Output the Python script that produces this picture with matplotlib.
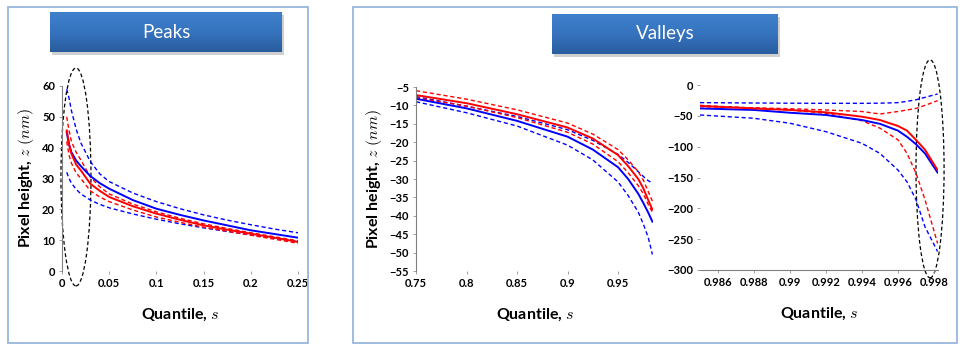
import numpy as np
import matplotlib
matplotlib.use("Agg")
import matplotlib.pyplot as plt
from matplotlib.patches import Rectangle, Ellipse
from matplotlib.colors import LinearSegmentedColormap

plt.rcParams['mathtext.fontset'] = 'cm'
plt.rcParams['font.family'] = ['Lato', 'DejaVu Sans']

# ---------------- data ----------------
# Peaks panel
peak_s = [0.005, 0.0075, 0.01, 0.015, 0.02, 0.03, 0.04, 0.05, 0.075, 0.1, 0.125, 0.15, 0.175, 0.2, 0.225, 0.25]
peak_blue = [45.0, 41.0, 38.5, 35.8, 34.0, 30.8, 28.5, 26.7, 23.0, 20.2, 18.2, 16.4, 14.8, 13.2, 12.0, 10.8]
peak_blue_hi = [59.0, 56.0, 52.0, 46.0, 41.5, 35.5, 31.5, 29.0, 25.3, 22.5, 20.2, 18.2, 16.5, 15.0, 13.6, 12.4]
peak_blue_lo = [32.0, 30.0, 28.5, 26.5, 25.0, 23.0, 21.6, 20.5, 18.5, 16.8, 15.3, 14.0, 12.8, 11.7, 10.6, 9.6]
peak_red = [45.6, 41.0, 38.0, 34.5, 32.6, 28.3, 26.0, 24.0, 21.0, 18.6, 16.6, 14.8, 13.4, 12.1, 10.8, 9.4]
peak_red_hi = [50.0, 45.5, 42.0, 38.5, 36.0, 30.5, 27.3, 25.0, 21.7, 19.2, 17.1, 15.3, 13.8, 12.4, 11.1, 9.8]
peak_red_lo = [42.0, 37.5, 35.0, 31.8, 30.0, 26.0, 24.0, 22.5, 19.8, 17.5, 15.8, 14.2, 12.9, 11.6, 10.3, 9.0]

# Valleys, central quantiles
val_s = [0.75, 0.8, 0.85, 0.9, 0.925, 0.95, 0.96, 0.97, 0.975, 0.98, 0.984]
val_red = [-7.2, -9.4, -12.4, -16.0, -19.0, -23.5, -26.5, -30.0, -32.5, -35.8, -38.3]
val_red_hi = [-6.0, -8.3, -11.2, -14.8, -17.8, -22.0, -24.8, -28.0, -30.3, -33.5, -36.0]
val_red_lo = [-7.9, -10.2, -13.3, -17.3, -20.5, -25.3, -28.3, -31.8, -34.0, -37.0, -39.0]
val_blue = [-8.2, -10.8, -14.2, -18.5, -22.0, -26.8, -30.0, -34.0, -36.5, -39.2, -41.6]
val_blue_hi = [-7.6, -10.2, -13.0, -16.6, -19.5, -23.3, -25.5, -28.0, -29.3, -30.5, -31.0]
val_blue_lo = [-9.0, -12.0, -15.6, -20.8, -24.8, -30.8, -34.5, -39.0, -42.2, -46.0, -50.5]

# Valleys, extreme quantiles
ext_s = [0.985, 0.988, 0.99, 0.992, 0.994, 0.995, 0.996, 0.9965, 0.997, 0.9975, 0.9982]
ext_red = [-34.0, -38.0, -40.5, -44.3, -51.4, -56.8, -66.5, -74.0, -89.0, -105.0, -138.0]
ext_red_hi = [-35.0, -37.0, -38.5, -40.5, -43.0, -47.0, -43.0, -40.5, -38.0, -33.0, -25.4]
ext_red_lo = [-33.0, -37.5, -40.5, -46.0, -58.0, -70.0, -89.0, -111.0, -143.0, -186.0, -257.0]
ext_blue = [-38.0, -40.5, -45.0, -48.6, -56.8, -63.0, -74.0, -84.0, -96.0, -111.0, -142.0]
ext_blue_hi = [-28.6, -29.2, -29.5, -29.7, -29.7, -29.5, -28.6, -26.5, -24.0, -20.0, -14.6]
ext_blue_lo = [-48.6, -54.0, -62.0, -75.7, -94.6, -111.0, -138.0, -157.0, -186.0, -230.0, -270.0]

peak_xticks = [0, 0.05, 0.1, 0.15, 0.2, 0.25]
peak_xlabels = ['0', '0.05', '0.1', '0.15', '0.2', '0.25']
peak_yticks = [0, 10, 20, 30, 40, 50, 60]
val_xticks = [0.75, 0.8, 0.85, 0.9, 0.95]
val_xlabels = ['0.75', '0.8', '0.85', '0.9', '0.95']
val_yticks = [-5, -10, -15, -20, -25, -30, -35, -40, -45, -50, -55]
ext_xticks = [0.986, 0.988, 0.99, 0.992, 0.994, 0.996, 0.998]
ext_xlabels = ['0.986', '0.988', '0.99', '0.992', '0.994', '0.996', '0.998']
ext_yticks = [0, -50, -100, -150, -200, -250, -300]

# ---------------- figure ----------------
W, H = 969, 349
fig = plt.figure(figsize=(W / 100, H / 100), dpi=100)
fig.patch.set_facecolor('white')

def fx(px):
    return px / W

def fy(py):
    return 1 - py / H

# panel borders
for (x0, y0, x1, y1) in [(8, 7, 308, 343), (353, 7, 957, 343)]:
    fig.add_artist(Rectangle((fx(x0), fy(y1)), fx(x1) - fx(x0), fy(y0) - fy(y1),
                             transform=fig.transFigure, fill=False,
                             edgecolor='#8fb1da', lw=1.2))

# title boxes with gradient
cmap = LinearSegmentedColormap.from_list('tb', ['#3f80cc', '#3573be', '#2a5c9e'])
for (x0, y0, x1, y1, label) in [(50, 12, 282, 52, 'Peaks'), (552, 14, 778, 54, 'Valleys')]:
    sh = Rectangle((fx(x0 + 2), fy(y1 + 3)), fx(x1) - fx(x0), fy(y0) - fy(y1),
                   transform=fig.transFigure, facecolor='#c4c4c4',
                   edgecolor='none', alpha=0.8)
    sh.set_zorder(1)
    fig.add_artist(sh)
    tax = fig.add_axes([fx(x0), fy(y1), fx(x1) - fx(x0), fy(y0) - fy(y1)])
    tax.set_zorder(5)
    grad = np.linspace(0, 1, 64).reshape(-1, 1)
    tax.imshow(grad, aspect='auto', cmap=cmap, extent=(0, 1, 0, 1), origin='upper')
    tax.set_axis_off()
    tax.text(0.5, 0.5, label, color='white', fontsize=13.5, ha='center', va='center',
             transform=tax.transAxes, family=['Lato', 'DejaVu Sans'])

def make_ax(l, r, t, b):
    return fig.add_axes([fx(l), fy(b), fx(r) - fx(l), fy(t) - fy(b)])

lab_font = dict(fontsize=11.5, fontweight='bold')

def style(ax, left=True, bottom=False):
    for sp in ['top', 'right']:
        ax.spines[sp].set_visible(False)
    ax.spines['left'].set_visible(left)
    ax.spines['bottom'].set_visible(bottom)
    ax.spines['left'].set_color('#808080')
    ax.spines['bottom'].set_color('#808080')
    ax.spines['left'].set_linewidth(0.8)
    ax.spines['bottom'].set_linewidth(0.8)
    ax.tick_params(axis='both', length=2, width=0.6, color='#909090', pad=3)
    for lab in ax.get_xticklabels() + ax.get_yticklabels():
        lab.set_fontsize(8)
        lab.set_fontweight('bold')
    ax.set_facecolor('none')

def draw(ax, s, mid_b, hi_b, lo_b, mid_r, hi_r, lo_r):
    ax.plot(s, hi_b, color='#0000ff', lw=1.0, ls=(0, (3, 2)))
    ax.plot(s, lo_b, color='#0000ff', lw=1.0, ls=(0, (3, 2)))
    ax.plot(s, hi_r, color='#ff0000', lw=1.0, ls=(0, (3, 2)))
    ax.plot(s, lo_r, color='#ff0000', lw=1.0, ls=(0, (3, 2)))
    ax.plot(s, mid_b, color='#0000ff', lw=1.4)
    ax.plot(s, mid_r, color='#ff0000', lw=1.4)

# Peaks
ax1 = make_ax(62, 298, 86, 271)
draw(ax1, peak_s, peak_blue, peak_blue_hi, peak_blue_lo, peak_red, peak_red_hi, peak_red_lo)
ax1.set_xlim(0, 0.25)
ax1.set_ylim(0, 60)
ax1.set_xticks(peak_xticks)
ax1.set_xticklabels(peak_xlabels)
ax1.set_yticks(peak_yticks)
style(ax1)
ax1.set_ylabel(r'Pixel height, $z\ (nm)$', labelpad=4, **lab_font)
ax1.set_xlabel(r'Quantile, $s$', labelpad=13, **lab_font)
ax1.add_patch(Ellipse((0.0148, 30.5), 0.0318, 70.7, fill=False, ls=(0, (3, 2)),
                      edgecolor='black', lw=0.9, clip_on=False))

# Valleys central
ax2 = make_ax(416, 653.4, 87, 271)
draw(ax2, val_s, val_blue, val_blue_hi, val_blue_lo, val_red, val_red_hi, val_red_lo)
ax2.set_xlim(0.75, 0.985)
ax2.set_ylim(-55, -5)
ax2.set_xticks(val_xticks)
ax2.set_xticklabels(val_xlabels)
ax2.set_yticks(val_yticks)
style(ax2)
ax2.set_ylabel(r'Pixel height, $z\ (nm)$', labelpad=4, **lab_font)
ax2.set_xlabel(r'Quantile, $s$', labelpad=13, **lab_font)

# Valleys extreme
ax3 = make_ax(700, 937.6, 85, 270)
draw(ax3, ext_s, ext_blue, ext_blue_hi, ext_blue_lo, ext_red, ext_red_hi, ext_red_lo)
ax3.set_xlim(0.985, 0.9982)
ax3.set_ylim(-300, 0)
ax3.set_xticks(ext_xticks)
ax3.set_xticklabels(ext_xlabels)
ax3.set_yticks(ext_yticks)
style(ax3, left=False, bottom=True)
ax3.set_xlabel(r'Quantile, $s$', labelpad=13, **lab_font)
ax3.add_patch(Ellipse((0.99778, -136), 0.00156, 353.5, fill=False, ls=(0, (3, 2)),
                      edgecolor='black', lw=0.9, clip_on=False))

fig.savefig('out.png', dpi=100)
